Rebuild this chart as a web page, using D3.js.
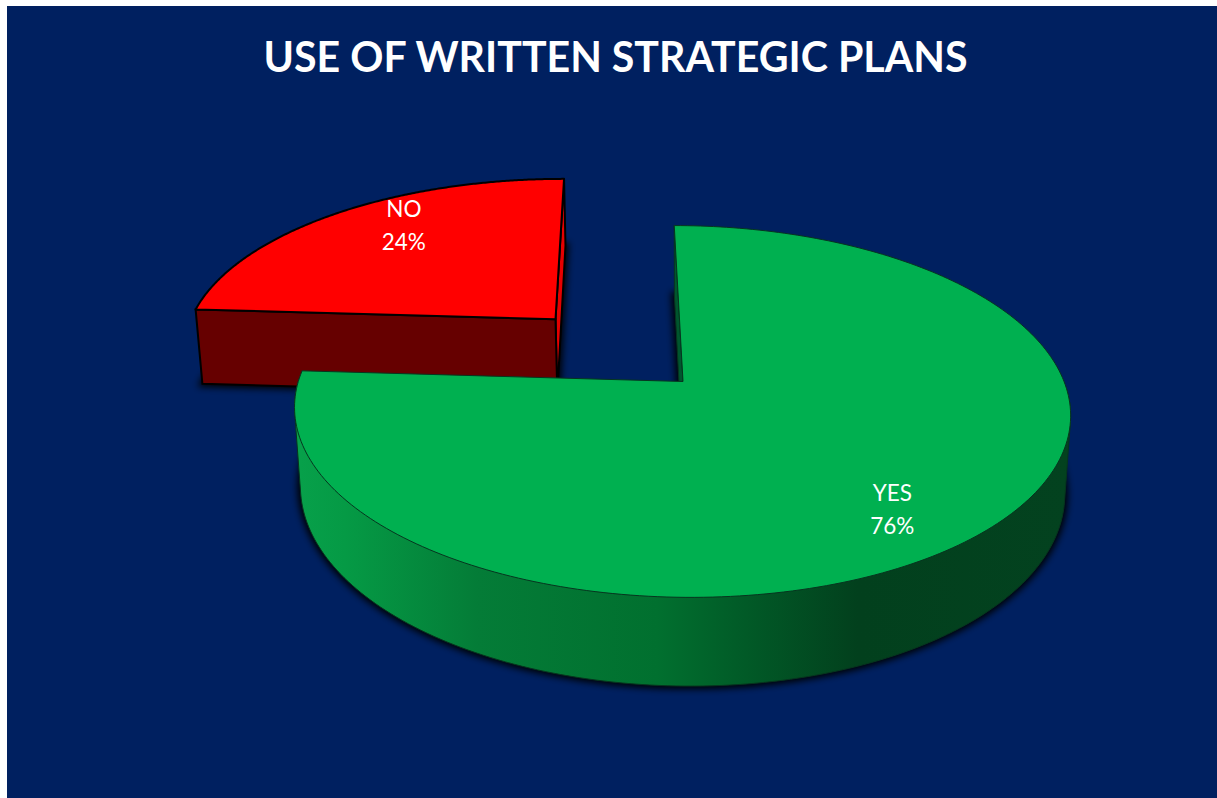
<!DOCTYPE html>
<html>
<head>
<meta charset="utf-8">
<script src="https://cdn.jsdelivr.net/npm/d3@7/dist/d3.min.js"></script>
<style>
  html, body { margin: 0; padding: 0; background: #fff; overflow: hidden; }
  svg { display: block; }
</style>
</head>
<body>
<svg id="chart" width="1217" height="798"></svg>
<script>
// Chart content
const titleText = "USE OF WRITTEN STRATEGIC PLANS";
const categories = ["YES", "NO"];
const shares = [76, 24];
const explode = [0, 0.5];            // pull-out distance, in pie radii
const topColors = ["#00B050", "#FF0000"];
const innerWallColors = ["#00562E", "#E60000"];
const outlineColors = ["#06351f", "#000000"];
const outlineWidths = [1, 2];
const firstSliceDegrees = -1.9;

// Camera model for the tilted pie: disk coordinates (u right, v toward viewer, z down),
// with a slight roll about the apex
const view = { x0: 683, y0: 381.5, kx: 383, ky: 181, kz: 79, p: 0.1613, q: 0.015,
               roll: 0.8 * Math.PI / 180 };
function project(u, v, z) {
  const w = 1 - view.p * v + view.q * z;
  const dx = view.kx * u / w, dyFlat = view.ky * v / w, dz = view.kz * z / w;
  const c = Math.cos(view.roll), s = Math.sin(view.roll);
  return [view.x0 + dx * c - dyFlat * s, view.y0 + dx * s + dyFlat * c + dz * c];
}

const svg = d3.select("#chart");
const width = 1217, height = 798;
const defs = svg.append("defs");

// Side wall shading runs left to right across the rim
const rimStops = [
  [300, "#07A04A"], [345, "#059A45"], [478, "#047C37"], [657, "#01702F"],
  [746, "#015A27"], [858, "#02401D"], [1070, "#03421F"]
];
const rimX = d3.scaleLinear().domain([0, width]).range([0, 100]);
const rim = defs.append("linearGradient")
  .attr("id", "rim").attr("gradientUnits", "userSpaceOnUse")
  .attr("x1", 0).attr("x2", width).attr("y1", 0).attr("y2", 0);
rim.selectAll("stop").data(rimStops).join("stop")
  .attr("offset", d => rimX(d[0]) + "%")
  .attr("stop-color", d => d[1]);

defs.append("filter").attr("id", "soft")
  .attr("x", "-10%").attr("y", "-10%").attr("width", "120%").attr("height", "120%")
  .append("feGaussianBlur").attr("stdDeviation", 3.5);

svg.append("rect").attr("x", 7).attr("y", 6)
  .attr("width", width - 7).attr("height", height - 6).attr("fill", "#002060");

svg.append("text").text(titleText)
  .attr("x", 615.5).attr("y", 72).attr("text-anchor", "middle")
  .attr("font-family", "Lato, 'Open Sans', sans-serif").attr("font-weight", 700)
  .attr("font-size", 41.1).attr("fill", "#fff");

// Slice angles come from the pie layout
const start = firstSliceDegrees * Math.PI / 180;
const slices = d3.pie().sort(null).startAngle(start).endAngle(start + 2 * Math.PI)(shares)
  .map((d, i) => ({ ...d, i, ex: explode[i], mid: (d.startAngle + d.endAngle) / 2 }));

const line = d3.line();
const disk = (s, a, r = 1) => [
  r * Math.sin(a) + s.ex * Math.sin(s.mid),
  -r * Math.cos(a) - s.ex * Math.cos(s.mid)
];
const pt = (s, a, r, z) => { const [u, v] = disk(s, a, r); return project(u, v, z); };
const sweep = s => d3.range(0, 241).map(k => s.startAngle + (s.endAngle - s.startAngle) * k / 240);
const arcPts = (s, z) => sweep(s).map(a => pt(s, a, 1, z));
const facePts = (s, z) => [pt(s, 0, 0, z), ...arcPts(s, z)];
const radialWall = (s, a) => [pt(s, a, 1, 0), pt(s, a, 0, 0), pt(s, a, 0, 1), pt(s, a, 1, 1)];

// Outer wall: the hull of the front half of the rim, top edge and bottom edge together
const rimHull = s => {
  const front = sweep(s).filter(a => Math.cos(a) < 0);
  return d3.polygonHull([...front.map(a => pt(s, a, 1, 0)), ...front.map(a => pt(s, a, 1, 1))]);
};

const closed = pts => line(pts) + "Z";

// Draw back to front: the pulled-out slice sits behind the large one
[slices[1], slices[0]].forEach(s => {
  const g = svg.append("g").attr("class", "slice-" + categories[s.i]);
  const stroke = outlineColors[s.i], sw = outlineWidths[s.i];

  g.append("path").attr("d", closed(facePts(s, 1)))
    .attr("fill", "#000").attr("stroke", "#000").attr("stroke-width", 6)
    .attr("filter", "url(#soft)");

  if (s.i === 0) {
    g.append("path").attr("d", closed(rimHull(s)))
      .attr("fill", "url(#rim)").attr("stroke", stroke).attr("stroke-width", sw);
    g.append("path").attr("d", closed(radialWall(s, s.startAngle)))
      .attr("fill", innerWallColors[s.i]).attr("stroke", stroke).attr("stroke-width", sw);
  } else {
    g.append("path").attr("d", closed(radialWall(s, s.endAngle)))
      .attr("fill", innerWallColors[s.i]).attr("stroke", stroke).attr("stroke-width", sw);
    g.append("path").attr("d", closed(radialWall(s, s.startAngle)))
      .attr("fill", "#660000").attr("stroke", stroke).attr("stroke-width", sw);
  }

  g.append("path").attr("d", closed(facePts(s, 0)))
    .attr("fill", topColors[s.i]).attr("stroke", stroke).attr("stroke-width", sw)
    .attr("stroke-linejoin", "round");
});

// Two-line slice labels: name above percentage
slices.forEach(s => {
  const u = 0.7 * Math.sin(s.mid) + s.ex * Math.sin(s.mid);
  const v = -0.88 * Math.cos(s.mid) - s.ex * Math.cos(s.mid);
  const [x, y] = project(u, v, 0);
  [categories[s.i], s.data + "%"].forEach((t, k) => {
    svg.append("text").text(t)
      .attr("x", x).attr("y", y + (k === 0 ? -8 : 25))
      .attr("text-anchor", "middle")
      .attr("font-family", "Lato, 'Open Sans', sans-serif")
      .attr("font-size", 22.5).attr("fill", "#fff");
  });
});
</script>
</body>
</html>
